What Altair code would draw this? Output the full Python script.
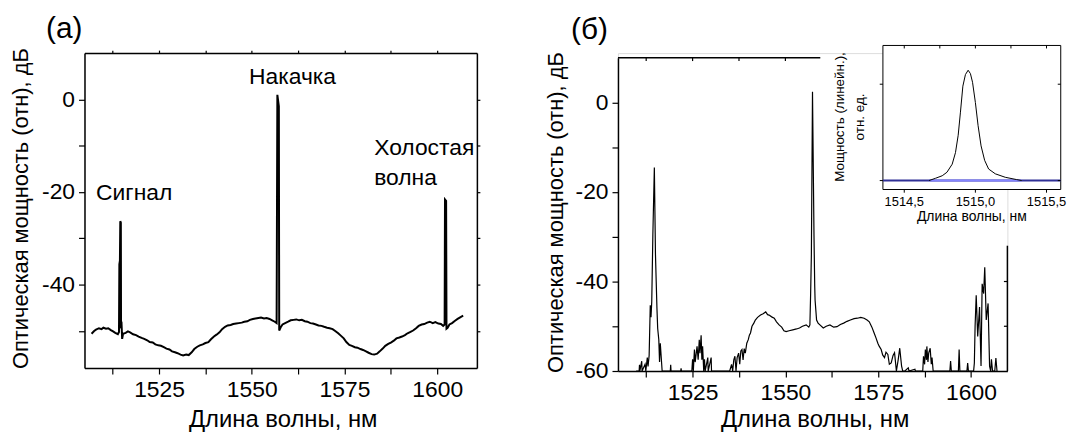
import altair as alt
import pandas as pd

FONT = "Liberation Sans"

# ---------------- panel (а): spectrum, dB ----------------
A_WL = [1506.8, 1507.5, 1508.0, 1508.8, 1509.5, 1510.0, 1510.7, 1511.3, 1512.0, 1512.6,
        1513.2, 1513.9, 1514.2, 1514.3, 1514.45, 1514.55, 1514.7, 1514.75, 1514.9, 1515.05,
        1515.3, 1516.0, 1516.6, 1517.2, 1518.0, 1518.8, 1519.5, 1520.3, 1521.0, 1521.8,
        1522.5, 1523.3, 1524.0, 1524.8, 1525.5, 1526.3, 1527.0, 1527.8, 1528.5, 1529.3,
        1530.0, 1530.8, 1531.5, 1532.3, 1533.0, 1533.8, 1534.5, 1535.3, 1536.0, 1536.8,
        1537.5, 1538.3, 1539.0, 1539.8, 1540.5, 1541.3, 1542.0, 1542.8, 1543.5, 1544.3,
        1545.0, 1545.8, 1546.5, 1547.3, 1548.0, 1548.8, 1549.5, 1550.3, 1551.0, 1551.8,
        1552.5, 1553.3, 1554.0, 1554.8, 1555.5, 1556.2, 1556.7, 1556.9, 1557.3, 1557.4,
        1557.8, 1558.3, 1559.0, 1559.8, 1560.5, 1561.3, 1562.0, 1562.8, 1563.5, 1564.3,
        1565.0, 1565.8, 1566.5, 1567.3, 1568.0, 1568.8, 1569.5, 1570.3, 1571.0, 1571.8,
        1572.5, 1573.3, 1574.0, 1574.8, 1575.5, 1576.3, 1577.0, 1577.8, 1578.5, 1579.3,
        1580.0, 1580.8, 1581.5, 1582.3, 1583.0, 1583.8, 1584.5, 1585.3, 1586.0, 1586.8,
        1587.5, 1588.3, 1589.0, 1589.8, 1590.5, 1591.3, 1592.0, 1592.8, 1593.5, 1594.3,
        1595.0, 1595.8, 1596.5, 1597.3, 1598.0, 1598.8, 1599.5, 1600.3, 1601.0, 1601.6,
        1602.0, 1602.1, 1602.4, 1602.5, 1602.8, 1603.3, 1604.0, 1604.8, 1605.5, 1606.3,
        1607.0]
A_DB = [-50.6, -50.0, -49.7, -49.4, -49.6, -49.3, -49.5, -49.4, -49.8, -50.1,
        -50.4, -50.7, -50.2, -35.6, -34.8, -26.3, -26.6, -48.8, -48.6, -51.7,
        -50.6, -50.4, -50.1, -50.3, -50.7, -50.9, -51.2, -51.5, -51.7, -52.0,
        -52.4, -52.5, -52.9, -53.1, -53.2, -53.5, -53.8, -54.0, -54.4, -54.6,
        -54.8, -55.1, -55.3, -55.1, -55.2, -54.6, -53.9, -53.4, -53.1, -52.9,
        -52.6, -52.4, -51.8, -51.2, -50.8, -50.3, -49.6, -49.1, -48.8, -48.7,
        -48.5, -48.4, -48.3, -48.2, -48.0, -47.9, -47.6, -47.4, -47.3, -47.2,
        -47.1, -47.3, -47.2, -47.4, -47.7, -48.0, -48.3, 1.0, -1.5, -49.9,
        -49.2, -48.6, -48.3, -48.0, -47.7, -47.6, -47.5, -47.7, -47.6, -47.9,
        -48.0, -48.3, -48.4, -48.6, -48.8, -48.9, -49.1, -49.3, -49.4, -49.6,
        -50.0, -50.5, -51.0, -51.6, -52.4, -53.0, -53.2, -53.5, -53.6, -53.9,
        -54.1, -54.4, -54.7, -55.0, -55.1, -54.9, -54.4, -53.8, -53.2, -52.8,
        -52.5, -52.1, -51.6, -51.4, -51.2, -50.9, -50.5, -50.2, -49.9, -49.4,
        -48.9, -48.6, -48.5, -48.2, -48.0, -48.3, -48.1, -48.4, -48.5, -48.9,
        -48.6, -21.6, -21.9, -49.5, -49.3, -48.6, -48.3, -47.8, -47.4, -47.0,
        -46.7]

# ---------------- panel (б): spectrum, dB (clipped at -60) ----------------
B_WL = [1509.8, 1510.6, 1510.7, 1510.8, 1511.3, 1511.4, 1512.2, 1512.4, 1512.8, 1513.0,
        1513.3, 1513.6, 1513.8, 1514.0, 1514.3, 1514.7, 1515.0, 1515.2, 1515.4, 1515.6,
        1515.9, 1516.1, 1516.3, 1516.8, 1519.0, 1519.1, 1519.2, 1521.8, 1521.9, 1522.0,
        1524.8, 1525.0, 1525.2, 1525.5, 1525.7, 1526.2, 1526.5, 1526.8, 1527.0, 1527.3,
        1527.5, 1527.7, 1528.0, 1528.2, 1528.4, 1529.1, 1529.2, 1530.0, 1530.1, 1535.0,
        1535.5, 1535.8, 1536.1, 1536.4, 1536.7, 1537.0, 1537.4, 1537.7, 1538.0, 1538.3,
        1538.6, 1538.9, 1539.2, 1539.6, 1540.0, 1540.3, 1540.6, 1541.0, 1541.5, 1541.9,
        1542.5, 1543.3, 1544.0, 1544.7, 1545.2, 1545.6, 1546.3, 1547.0, 1547.6, 1548.3,
        1549.0, 1549.6, 1550.2, 1551.0, 1552.0, 1553.0, 1553.8, 1554.6, 1555.6, 1556.3,
        1556.6, 1556.8, 1557.0, 1557.3, 1557.7, 1557.9, 1558.0, 1558.4, 1558.8, 1559.3,
        1560.2, 1561.0, 1562.0, 1563.0, 1563.9, 1564.8, 1565.7, 1566.6, 1567.5, 1568.5,
        1569.4, 1570.3, 1571.2, 1572.0, 1572.6, 1573.3, 1573.9, 1574.4, 1574.9, 1575.3,
        1575.8, 1576.2, 1576.7, 1577.1, 1577.6, 1578.0, 1578.5, 1579.0, 1579.4, 1579.9,
        1580.4, 1580.8, 1581.3, 1581.6, 1582.2, 1583.1, 1583.3, 1584.9, 1585.0, 1587.0,
        1587.2, 1587.5, 1587.7, 1588.0, 1588.1, 1588.4, 1588.6, 1589.0, 1589.3, 1589.5,
        1589.8, 1594.3, 1594.5, 1594.7, 1596.6, 1596.8, 1597.0, 1598.9, 1599.1, 1599.3,
        1600.7, 1600.9, 1601.1, 1601.4, 1601.8, 1602.3, 1602.7, 1603.0, 1603.4, 1603.7,
        1604.1, 1604.6, 1605.0, 1605.3, 1605.5, 1605.8, 1606.4, 1606.7, 1607.0]
B_DB = [-60, -60, -58.6, -60, -57.8, -60, -58.5, -60, -57.0, -59.0,
        -56.5, -45.3, -48.0, -44.5, -29.5, -14.5, -33.9, -40.0, -46.0, -50.5,
        -53.0, -58.0, -53.8, -60, -60, -58.6, -60, -60, -59.4, -60,
        -60, -57.4, -60, -55.2, -58.0, -54.5, -57.5, -53.0, -56.0, -52.0,
        -57.5, -54.5, -60, -57.4, -60, -57.0, -60, -57.0, -60, -60,
        -58.5, -60, -57.5, -56.7, -60, -57.0, -56.0, -58.5, -55.5, -55.2,
        -57.5, -55.0, -56.0, -53.8, -53.0, -52.0, -51.5, -50.0, -49.3, -48.6,
        -48.0, -47.5, -47.2, -46.8, -47.4, -47.5, -47.9, -48.2, -49.0, -49.7,
        -50.2, -51.0, -51.2, -51.0, -50.8, -50.6, -50.4, -50.0, -49.7, -50.2,
        -49.7, -42.7, -33.9, 2.4, -29.5, -41.0, -44.2, -48.6, -49.3, -49.7,
        -50.4, -50.0, -49.7, -50.2, -50.1, -49.6, -49.3, -48.9, -48.6, -48.3,
        -48.2, -48.0, -48.2, -48.6, -49.0, -50.2, -51.5, -52.6, -53.8, -54.5,
        -55.2, -56.4, -57.0, -55.8, -56.3, -58.5, -58.2, -56.5, -55.9, -60,
        -57.4, -54.9, -58.9, -60, -60, -59.3, -60, -59.6, -60, -60,
        -56.7, -58.5, -55.2, -57.5, -54.5, -58.0, -56.0, -54.9, -58.5, -57.0,
        -60, -60, -57.8, -60, -60, -55.2, -60, -60, -58.2, -60,
        -60, -58.2, -50.0, -43.1, -52.3, -45.7, -58.9, -40.5, -42.7, -36.8,
        -48.6, -44.9, -58.9, -60, -57.4, -60, -60, -57.1, -60]

# ---------------- inset: signal line, linear units ----------------
INSET_WL = [1514.674, 1514.72, 1514.767, 1514.80, 1514.837, 1514.86, 1514.879, 1514.895,
            1514.912, 1514.93, 1514.949, 1514.965, 1514.98, 1515.0, 1515.019, 1515.04,
            1515.065, 1515.093, 1515.14, 1515.21, 1515.29, 1515.326]
INSET_P = [0.0, 0.024, 0.05, 0.086, 0.17, 0.29, 0.47, 0.71,
           0.98, 1.10, 1.145, 1.11, 1.02, 0.81, 0.57, 0.36,
           0.21, 0.12, 0.07, 0.034, 0.01, 0.0]

# ---------------- ticks, labels, annotations ----------------
X_TICKS = [1512.5, 1525, 1537.5, 1550, 1562.5, 1575, 1587.5, 1600]
A_Y_TICKS = [-50, -40, -30, -20, -10, 0]
B_Y_TICKS = [-60, -50, -40, -30, -20, -10, 0]
B_TOP_TICKS = [1512.5, 1525, 1537.5, 1550]
B_RIGHT_TICKS = [-50, -40]
INSET_X_TICKS = [1514.5, 1515.0, 1515.5]
INSET_X_LABELS = ["1514,5", "1515,0", "1515,5"]
INSET_TOP_TICKS = [1514.5, 1514.75, 1515.0, 1515.25, 1515.5]
INSET_Y_TICKS = [0, 1]

ANN_C_TEXT = ["Накачка", "Сигнал"]
ANN_C_X = [1561.0, 1518.3]
ANN_C_Y = [4.9, -20.3]
ANN_L_TEXT = ["Холостая", "волна"]
ANN_L_X = [1583.0, 1583.0]
ANN_L_Y = [-10.5, -16.9]

X_TITLE = "Длина волны, нм"
Y_TITLE = "Оптическая мощность (отн), дБ"

# ---------------- geometry ----------------
WA, HA = 395, 317
WB, HB = 392, 320

common = dict(domainColor="black", domainWidth=1.5, tickColor="black", tickWidth=1.2,
              labelColor="black", labelFont=FONT, labelFontSize=23, titleFont=FONT,
              titleColor="black", titleFontWeight="normal", grid=False, labelOverlap=False)

xa = alt.Scale(domain=[1504.9, 1610.7], nice=False, zero=False)
ya = alt.Scale(domain=[-58, 10], nice=False, zero=False)
xb = alt.Scale(domain=[1504.9, 1609.8], nice=False, zero=False)
yb = alt.Scale(domain=[-60, 10], range=[HB, 4.7], nice=False, zero=False)
xi = alt.Scale(domain=[1514.35, 1515.6], range=[266.7, 445.7], nice=False, zero=False)
yi = alt.Scale(domain=[0, 1], range=[128.3, 31.3], nice=False, zero=False)

XLAB = "datum.value % 25 == 0 ? '' + datum.value : ''"
YLAB = "datum.value % 20 == 0 ? '' + datum.value : ''"


def bottom_axis(w, ty):
    return alt.Axis(orient="bottom", values=X_TICKS, labelExpr=XLAB, tickSize=6, labelPadding=5,
                    title=X_TITLE, titleFontSize=24, titleX=w / 2 + 2, titleY=ty,
                    titleBaseline="middle", titleAlign="center", **common)


def left_axis(vals, center_y, tx):
    return alt.Axis(orient="left", values=vals, labelExpr=YLAB, tickSize=6, labelPadding=4,
                    title=Y_TITLE, titleFontSize=22, titleX=tx, titleY=center_y,
                    titleAngle=270, titleBaseline="middle", titleAlign="center", **common)


# ---------------- panel (а) ----------------
df_a = pd.DataFrame({"wl": A_WL, "db": A_DB})
line_a = alt.Chart(df_a).mark_line(color="black", strokeWidth=2).encode(
    x=alt.X("wl:Q", scale=xa, axis=bottom_axis(WA, 52)),
    y=alt.Y("db:Q", scale=ya, axis=left_axis(A_Y_TICKS, 156, -64)),
)
df_ac = pd.DataFrame({"wl": ANN_C_X, "db": ANN_C_Y, "t": ANN_C_TEXT})
ann_a = alt.Chart(df_ac).mark_text(font=FONT, fontSize=23, color="black", align="center",
                                   baseline="middle").encode(
    x=alt.X("wl:Q", scale=xa, axis=alt.Axis(orient="top", values=X_TICKS, labels=False,
                                            tickSize=3, title=None, **common)),
    y=alt.Y("db:Q", scale=ya, axis=alt.Axis(orient="right", values=A_Y_TICKS, labels=False,
                                            tickSize=3, title=None, **common)),
    text="t:N",
)
df_al = pd.DataFrame({"wl": ANN_L_X, "db": ANN_L_Y, "t": ANN_L_TEXT})
ann_a2 = alt.Chart(df_al).mark_text(font=FONT, fontSize=23, color="black", align="left",
                                    baseline="middle").encode(
    x=alt.X("wl:Q", scale=xa, axis=None),
    y=alt.Y("db:Q", scale=ya, axis=None),
    text="t:N",
)
lab_a = alt.Chart(pd.DataFrame({"t": ["(а)"]})).mark_text(
    font=FONT, fontSize=30, color="black", align="left", baseline="middle").encode(
    x=alt.value(-38.7), y=alt.value(-24), text="t:N")

left = alt.layer(line_a, ann_a, ann_a2, lab_a).resolve_axis(
    x="independent", y="independent").properties(width=WA, height=HA)

# ---------------- panel (б) ----------------
df_b = pd.DataFrame({"wl": B_WL, "db": B_DB})
line_b = alt.Chart(df_b).mark_line(color="black", strokeWidth=1.2).encode(
    x=alt.X("wl:Q", scale=xb, axis=bottom_axis(WB, 49)),
    y=alt.Y("db:Q", scale=yb, axis=left_axis(B_Y_TICKS, 160, -62.8)),
)
top_rule_b = alt.Chart(pd.DataFrame({"wl": [1504.9], "wl2": [1559.4], "db": [10]})).mark_rule(
    color="black", strokeWidth=1.5).encode(
    x=alt.X("wl:Q", scale=xb, axis=None), x2="wl2:Q", y=alt.Y("db:Q", scale=yb, axis=None))
right_rule_b = alt.Chart(pd.DataFrame({"wl": [1609.8], "db": [-60], "db2": [-32]})).mark_rule(
    color="black", strokeWidth=1.5).encode(
    x=alt.X("wl:Q", scale=xb, axis=None), y=alt.Y("db:Q", scale=yb, axis=None), y2="db2:Q")
top_ticks_b = alt.Chart(pd.DataFrame({"wl": B_TOP_TICKS})).mark_rule(
    color="black", strokeWidth=1.2).encode(
    x=alt.X("wl:Q", scale=xb, axis=None), y=alt.value(4.7), y2=alt.value(8))
right_ticks_b = alt.Chart(pd.DataFrame({"db": B_RIGHT_TICKS})).mark_rule(
    color="black", strokeWidth=1.2).encode(
    y=alt.Y("db:Q", scale=yb, axis=None), x=alt.value(WB), x2=alt.value(WB - 3.5))
lab_b = alt.Chart(pd.DataFrame({"t": ["(б)"]})).mark_text(
    font=FONT, fontSize=30, color="black", align="left", baseline="middle").encode(
    x=alt.value(-47.3), y=alt.value(-23.7), text="t:N")

# inset
IX0, IX1 = 266.7, 445.7
inset_frame = alt.Chart(pd.DataFrame({"k": [0]})).mark_rect(
    fill="white", stroke="black", strokeWidth=1).encode(
    x=alt.value(IX0), x2=alt.value(IX1), y=alt.value(-7.7), y2=alt.value(137.3))
base_dark = alt.Chart(pd.DataFrame({"wl": [1514.35], "wl2": [1515.6], "p": [0]})).mark_rule(
    color="#2f2f95", strokeWidth=2).encode(
    x=alt.X("wl:Q", scale=xi, axis=None), x2="wl2:Q", y=alt.Y("p:Q", scale=yi, axis=None))
base_light = alt.Chart(pd.DataFrame({"wl": [1514.674], "wl2": [1515.326], "p": [0]})).mark_rule(
    color="#8585ff", strokeWidth=2).encode(
    x=alt.X("wl:Q", scale=xi, axis=None), x2="wl2:Q", y=alt.Y("p:Q", scale=yi, axis=None))
inset_line = alt.Chart(pd.DataFrame({"wl": INSET_WL, "p": INSET_P})).mark_line(
    color="black", strokeWidth=1).encode(
    x=alt.X("wl:Q", scale=xi, axis=None), y=alt.Y("p:Q", scale=yi, axis=None))
inset_bticks = alt.Chart(pd.DataFrame({"wl": INSET_X_TICKS})).mark_rule(
    color="black", strokeWidth=1).encode(
    x=alt.X("wl:Q", scale=xi, axis=None), y=alt.value(137.3), y2=alt.value(140.5))
inset_tticks = alt.Chart(pd.DataFrame({"wl": INSET_TOP_TICKS})).mark_rule(
    color="black", strokeWidth=1).encode(
    x=alt.X("wl:Q", scale=xi, axis=None), y=alt.value(-7.7), y2=alt.value(-4.7))
inset_lticks = alt.Chart(pd.DataFrame({"p": INSET_Y_TICKS})).mark_rule(
    color="black", strokeWidth=1).encode(
    y=alt.Y("p:Q", scale=yi, axis=None), x=alt.value(IX0 - 3.2), x2=alt.value(IX0))
inset_rticks = alt.Chart(pd.DataFrame({"p": INSET_Y_TICKS})).mark_rule(
    color="black", strokeWidth=1).encode(
    y=alt.Y("p:Q", scale=yi, axis=None), x=alt.value(IX1), x2=alt.value(IX1 - 3))
inset_labels = alt.Chart(pd.DataFrame({"wl": INSET_X_TICKS, "t": INSET_X_LABELS})).mark_text(
    font=FONT, fontSize=13, color="black", align="center", baseline="middle").encode(
    x=alt.X("wl:Q", scale=xi, axis=None), y=alt.value(150), text="t:N")
inset_xtitle = alt.Chart(pd.DataFrame({"t": [X_TITLE]})).mark_text(
    font=FONT, fontSize=14, color="black", align="center", baseline="middle").encode(
    x=alt.value((IX0 + IX1) / 2), y=alt.value(165), text="t:N")
inset_yt1 = alt.Chart(pd.DataFrame({"t": ["Мощность (линейн.),"]})).mark_text(
    font=FONT, fontSize=13.5, color="black", align="center", baseline="middle", angle=270).encode(
    x=alt.value(223.7), y=alt.value(64.3), text="t:N")
inset_yt2 = alt.Chart(pd.DataFrame({"t": ["отн. ед."]})).mark_text(
    font=FONT, fontSize=13.5, color="black", align="center", baseline="middle", angle=270).encode(
    x=alt.value(243.7), y=alt.value(64.3), text="t:N")

right = alt.layer(
    line_b, top_rule_b, right_rule_b, top_ticks_b, right_ticks_b, lab_b,
    inset_frame, base_dark, base_light, inset_line, inset_bticks, inset_tticks,
    inset_lticks, inset_rticks, inset_labels, inset_xtitle, inset_yt1, inset_yt2,
).resolve_scale(x="independent", y="independent").resolve_axis(
    x="independent", y="independent").properties(width=WB, height=HB)

chart = alt.hconcat(left, right, spacing=142, bounds="flush").properties(
    padding={"left": 1, "top": 4, "right": 0, "bottom": 0}
).configure_view(stroke=None).configure(font=FONT, background="white")

chart.save("out.html", embed_options={"renderer": "svg", "actions": False})
